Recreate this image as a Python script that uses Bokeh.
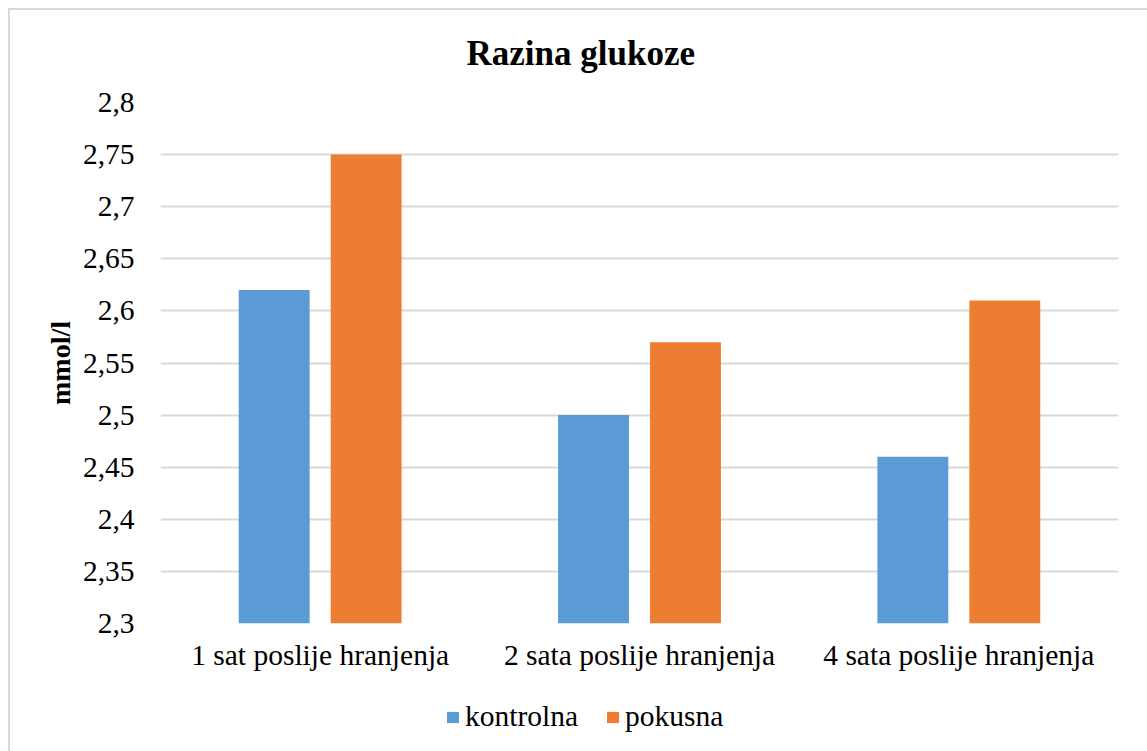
from bokeh.plotting import figure
from bokeh.layouts import column
from bokeh.models import (FactorRange, Range1d, FixedTicker, Legend, LegendItem,
                          ColumnDataSource)
from bokeh.transform import dodge
from bokeh.embed import file_html
from bokeh.resources import INLINE

categories = ["1 sat poslije hranjenja", "2 sata poslije hranjenja", "4 sata poslije hranjenja"]
kontrolna = [2.62, 2.50, 2.46]
pokusna = [2.75, 2.57, 2.61]
series_names = ["kontrolna", "pokusna"]
y_ticks = [2.3, 2.35, 2.4, 2.45, 2.5, 2.55, 2.6, 2.65, 2.7, 2.75, 2.8]
y_tick_labels = ["2,3", "2,35", "2,4", "2,45", "2,5", "2,55", "2,6", "2,65", "2,7", "2,75", "2,8"]

FONT = "Liberation Serif"
BLUE = "#5B9BD5"
ORANGE = "#ED7D31"
BORDER = "#d9d9d9"

src = ColumnDataSource(dict(cat=categories, k=kontrolna, p=pokusna))

p = figure(x_range=FactorRange(*categories), y_range=Range1d(2.3, 2.8),
           width=1147, height=691, output_backend="svg", toolbar_location=None,
           title="Razina glukoze",
           min_border_left=160, min_border_right=29, min_border_top=102,
           min_border_bottom=68)

p.border_fill_alpha = 0
p.styles = {"background": (f"linear-gradient({BORDER},{BORDER}) 8px 8px / 2px 100% no-repeat, "
                           f"linear-gradient({BORDER},{BORDER}) 8px 8px / 100% 2px no-repeat, white")}

rk = p.vbar(x=dodge("cat", -0.144, range=p.x_range), top="k", bottom=2.3, width=0.222,
            source=src, fill_color=BLUE, line_color=None)
rp = p.vbar(x=dodge("cat", 0.144, range=p.x_range), top="p", bottom=2.3, width=0.222,
            source=src, fill_color=ORANGE, line_color=None)

p.title.text_font = FONT
p.title.text_font_size = "35px"
p.title.text_font_style = "bold"
p.title.align = "left"
p.title.offset = 306
p.title.text_color = "black"
p.title.standoff = 59

p.outline_line_color = None
p.xgrid.grid_line_color = None
p.ygrid.grid_line_color = BORDER
p.ygrid.grid_line_width = 2

p.yaxis.ticker = FixedTicker(ticks=y_ticks)
p.yaxis.major_label_overrides = {t: l for t, l in zip(y_ticks, y_tick_labels)}
p.yaxis.axis_label = "mmol/l"
p.yaxis.axis_label_text_font = FONT
p.yaxis.axis_label_text_font_size = "28px"
p.yaxis.axis_label_text_font_style = "bold"
p.yaxis.axis_label_text_color = "black"
p.yaxis.axis_label_standoff = 4

for ax in (p.xaxis[0], p.yaxis[0]):
    ax.axis_line_color = None
    ax.major_tick_line_color = None
    ax.minor_tick_line_color = None
    ax.major_label_text_font = FONT
    ax.major_label_text_color = "black"
    ax.major_label_text_font_size = "29.5px"

p.yaxis.major_label_standoff = 20
p.xaxis.major_label_standoff = 9

# legend strip below the chart (its bars lie far outside its own y range, only the legend shows)
lg = figure(x_range=FactorRange(*categories), y_range=Range1d(1000, 1001),
            width=1147, height=60, output_backend="svg", toolbar_location=None,
            x_axis_type=None, y_axis_type=None, min_border=0)
lg.outline_line_color = None
lg.xgrid.grid_line_color = None
lg.ygrid.grid_line_color = None
lg.border_fill_alpha = 0
lg.background_fill_alpha = 0
lg.styles = {"background": f"linear-gradient({BORDER},{BORDER}) 8px 0px / 2px 100% no-repeat, white"}
dk = lg.vbar(x="cat", top="k", bottom=2.3, width=0.2, source=src,
             fill_color=BLUE, line_color=None)
dp = lg.vbar(x="cat", top="p", bottom=2.3, width=0.2, source=src,
             fill_color=ORANGE, line_color=None)

legend = Legend(items=[LegendItem(label=series_names[0], renderers=[dk]),
                       LegendItem(label=series_names[1], renderers=[dp])],
                orientation="horizontal", location=(285, 18),
                label_text_font=FONT, label_text_font_size="29.5px",
                label_text_color="black",
                glyph_width=15, glyph_height=14, spacing=27, label_standoff=5,
                padding=0, margin=0,
                border_line_color=None, background_fill_alpha=0)
lg.add_layout(legend, "center")

layout = column(p, lg, spacing=0)
open("out.html", "w").write(file_html(layout, INLINE))
